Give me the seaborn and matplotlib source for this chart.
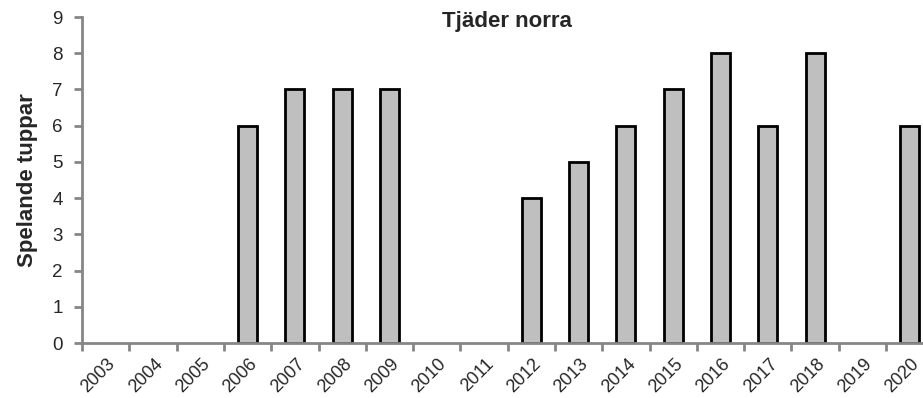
import matplotlib
matplotlib.use("Agg")
import matplotlib.pyplot as plt
import matplotlib.transforms as mtransforms
import seaborn as sns
import pandas as pd
import numpy as np

years = [str(y) for y in range(2003, 2021)]
values = [np.nan, np.nan, np.nan, 6, 7, 7, 7, np.nan, np.nan, 4, 5, 6, 7, 8, 6, 8, np.nan, 6]
title = "Tjäder norra"
ylabel = "Spelande tuppar"

sns.set_style("white")
plt.rcParams['font.family'] = ['Liberation Sans', 'DejaVu Sans']

df = pd.DataFrame({"year": years, "value": values})

fig = plt.figure(figsize=(9.23, 3.98), dpi=100)
ax = fig.add_axes([82/923, 55/398, (923-82)/923, (343-17)/398])

sns.barplot(data=df, x="year", y="value", color="#BFBFBF", edgecolor="black",
            linewidth=2, width=0.4, saturation=1, order=years, ax=ax)

ax.set_yticks(range(0, 10))
ax.set_xticks(np.arange(-0.5, 17, 1), minor=True)
ax.set_xticks(range(len(years)))
ax.set_ylim(0, 9)
ax.set_xlim(-0.5, -0.5 + (923-82)/47.3)
ax.set_xticklabels(years, rotation=45, ha='right', va='center', rotation_mode='anchor', fontsize=13)
ax.tick_params(axis='x', which='major', length=0, pad=13)
ax.tick_params(axis='x', which='minor', length=6, width=2, color='#868686', direction='out', bottom=True)
ax.tick_params(axis='y', length=6, width=2, color='#868686', direction='out', left=True, labelsize=13.5, pad=8)

offset = mtransforms.ScaledTranslation(7/100, 0, fig.dpi_scale_trans)
for lbl in ax.get_xticklabels():
    lbl.set_transform(lbl.get_transform() + offset)

for s in ['top', 'right']:
    ax.spines[s].set_visible(False)
for s in ['left', 'bottom']:
    ax.spines[s].set_color('#868686')
    ax.spines[s].set_linewidth(2)
    ax.spines[s].set_zorder(5)

ax.set_xlabel("")
ax.set_ylabel(ylabel, fontsize=16, fontweight='bold', labelpad=10)
fig.text(507/923, 1 - 22/398, title, fontsize=16, fontweight='bold', ha='center', va='center')

fig.savefig("out.png", dpi=100)
